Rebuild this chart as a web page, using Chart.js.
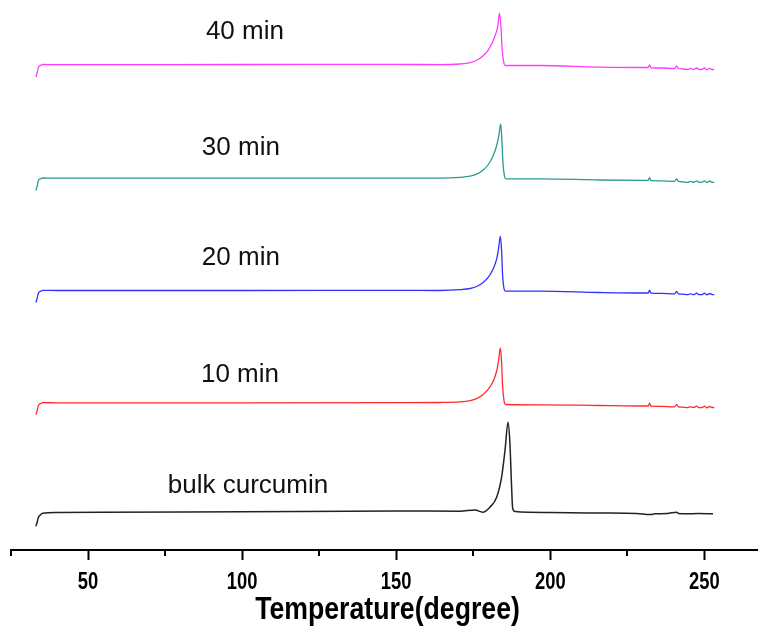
<!DOCTYPE html>
<html>
<head>
<meta charset="utf-8">
<script src="https://cdn.jsdelivr.net/npm/chart.js@4"></script>
<style>
  body { margin: 0; background: #fff; }
  canvas { display: block; }
</style>
</head>
<body>
<canvas id="myChart" width="758" height="626"></canvas>
<script>
// temperature (degree) and heat flow (a.u., curves stacked)
const temps40 = [33.1, 33.5, 33.9, 34.5, 35.3, 40, 60, 100, 150, 164.2, 170.7, 174.0, 176.1, 178.3, 179.9, 181.0, 182.1, 182.9, 183.5, 184.0, 184.4, 184.9, 185.3, 196.7, 216, 230, 231.8, 232.2, 232.7, 236, 240.3, 241.0, 241.6, 243, 244.5, 245.5, 246.5, 247.5, 248.3, 249.2, 250, 250.8, 251.8, 252.5, 253.2];
const heat40 = [472.8, 477.5, 482.8, 484.5, 485.5, 485.3, 485.4, 485.5, 485.7, 485.3, 486.0, 487.3, 489.7, 494.5, 500.2, 506.2, 514.5, 522.8, 536.8, 522.8, 499.5, 487.8, 484.5, 484.5, 482.8, 482.5, 482.5, 485.2, 482.2, 482, 481.5, 483.8, 481.5, 481, 480.5, 481.5, 480.5, 482, 480.5, 480.5, 482, 480.2, 481.7, 480.5, 480.5];

const temps30 = [33.1, 33.5, 33.9, 34.5, 35.3, 40, 60, 100, 150, 164.2, 170.7, 174.0, 176.1, 178.3, 179.9, 181.5, 182.6, 183.3, 183.9, 184.3, 184.6, 185.1, 185.6, 196.7, 216, 230, 231.8, 232.2, 232.7, 236, 240.3, 241.0, 241.6, 243, 244.5, 245.5, 246.5, 247.5, 248.3, 249.2, 250, 250.8, 251.8, 252.5, 253.2];
const heat30 = [359.5, 364, 369.5, 371, 372, 371.8, 371.8, 371.8, 371.9, 371.8, 372.6, 373.8, 375.8, 380.2, 385.5, 394.5, 404.5, 414.5, 426.2, 409.5, 389.5, 374.5, 371.2, 371.2, 370, 369.6, 369.6, 372.3, 369.3, 369.2, 368.7, 371, 368.7, 368.2, 367.7, 368.7, 367.7, 369.2, 367.7, 367.7, 369.2, 367.5, 369, 367.7, 367.7];

const temps20 = [33.1, 33.5, 33.9, 34.5, 35.3, 40, 60, 100, 150, 164.2, 170.7, 174.0, 176.1, 178.3, 179.9, 181.5, 182.6, 183.2, 183.8, 184.2, 184.5, 185.0, 185.5, 196.7, 216, 230, 231.8, 232.2, 232.7, 236, 240.3, 241.0, 241.6, 243, 244.5, 245.5, 246.5, 247.5, 248.3, 249.2, 250, 250.8, 251.8, 252.5, 253.2];
const heat20 = [247.5, 252, 257, 258.5, 259.6, 259.5, 259.5, 259.5, 259.6, 259.5, 260.3, 261.5, 263.5, 267.8, 272.8, 281.2, 291.2, 301.2, 313.8, 299.5, 276.2, 261.2, 258.8, 258.8, 257.5, 257, 257, 259.8, 256.8, 256.6, 256.2, 258.4, 256.2, 255.8, 255.3, 256.2, 255.3, 256.8, 255.3, 255.3, 256.8, 255.2, 256.5, 255.3, 255.3];

const temps10 = [33.1, 33.5, 33.9, 34.5, 35.3, 40, 60, 100, 150, 164.2, 170.7, 174.0, 176.1, 178.3, 179.9, 181.5, 182.6, 183.2, 183.8, 184.2, 184.5, 185.0, 185.5, 196.7, 216, 230, 231.8, 232.2, 232.7, 236, 240.3, 241.0, 241.6, 243, 244.5, 245.5, 246.5, 247.5, 248.3, 249.2, 250, 250.8, 251.8, 252.5, 253.2];
const heat10 = [135.2, 139.5, 144.5, 146.3, 147.3, 147.2, 147.2, 147.2, 147.3, 147.5, 148.1, 149.4, 151.4, 155.8, 160.8, 169, 179, 189, 202, 188, 165, 149, 145.5, 145.2, 144.5, 144, 144, 146.8, 143.8, 143.6, 143.2, 145.3, 143.2, 142.8, 142.4, 143.2, 142.4, 143.8, 142.4, 142.4, 143.8, 142.2, 143.5, 142.5, 142.5];

const tempsBulk = [33.1, 33.5, 33.9, 34.5, 35.3, 40, 53.9, 100, 150, 170.7, 175.6, 178.1, 180.4, 182.6, 184.2, 185.3, 186.3, 186.9, 187.4, 187.8, 188.6, 200, 216, 228, 232.4, 234, 238, 241, 241.6, 244, 248, 252.8];
const heatBulk = [23.8, 28, 32.8, 35, 36.8, 37.5, 37.8, 38.3, 39, 38.8, 40.0, 37.8, 42.8, 52.8, 72.8, 99.5, 127.8, 106.5, 66.5, 41.5, 38.5, 37.5, 37, 36.5, 35.5, 36.2, 36.5, 37.8, 36.5, 36.3, 36.4, 36.2];

const seriesNames = ["40 min", "30 min", "20 min", "10 min", "bulk curcumin"];
const seriesColors = ["#ff3cff", "#2a9a93", "#3030ff", "#ff2a2a", "#222222"];
const labelTemps = [100.9, 99.6, 99.6, 99.3, 101.9];
const labelHeat = [518.5, 402.5, 292.5, 175.5, 64.5];
const tickValues = [50, 100, 150, 200, 250];
const minorTickValues = [25, 75, 125, 175, 225];
const xTitle = "Temperature(degree)";

const allTemps = [temps40, temps30, temps20, temps10, tempsBulk];
const allHeat = [heat40, heat30, heat20, heat10, heatBulk];

const toPoints = (t, h) => t.map((x, i) => ({ x: x, y: h[i] }));

const ctx = document.getElementById("myChart").getContext("2d");

const curveLabels = {
  id: "curveLabels",
  afterDatasetsDraw(chart) {
    const { ctx, scales } = chart;
    ctx.save();
    ctx.font = '26px "Liberation Sans", Arial, sans-serif';
    ctx.fillStyle = "#111";
    ctx.textAlign = "center";
    ctx.textBaseline = "middle";
    seriesNames.forEach((name, i) => {
      ctx.fillText(name, scales.x.getPixelForValue(labelTemps[i]), scales.y.getPixelForValue(labelHeat[i]));
    });
    ctx.restore();
  },
};

// minor ticks + condensed bold axis text (no narrow font installed)
const axisExtras = {
  id: "axisExtras",
  afterDraw(chart) {
    const { ctx, scales, chartArea } = chart;
    ctx.save();
    ctx.strokeStyle = "#000";
    ctx.lineWidth = 2;
    minorTickValues.forEach((v) => {
      const px = Math.round(scales.x.getPixelForValue(v));
      ctx.beginPath();
      ctx.moveTo(px, chartArea.bottom);
      ctx.lineTo(px, chartArea.bottom + 6);
      ctx.stroke();
    });

    ctx.fillStyle = "#000";
    ctx.textAlign = "center";
    ctx.textBaseline = "middle";
    ctx.font = 'bold 23px "Liberation Sans", Arial, sans-serif';
    tickValues.forEach((v) => {
      ctx.save();
      ctx.translate(scales.x.getPixelForValue(v), chartArea.bottom + 33);
      ctx.scale(0.8, 1);
      ctx.fillText(String(v), 0, 0);
      ctx.restore();
    });

    ctx.font = 'bold 31px "Liberation Sans", Arial, sans-serif';
    ctx.translate((scales.x.left + scales.x.right) / 2 + 3, chartArea.bottom + 60);
    ctx.scale(0.86, 1);
    ctx.fillText(xTitle, 0, 0);
    ctx.restore();
  },
};

const myChart = new Chart(ctx, {
  type: "line",
  data: {
    datasets: seriesNames.map((name, i) => ({
      label: name,
      data: toPoints(allTemps[i], allHeat[i]),
      borderColor: seriesColors[i],
      borderWidth: i === 4 ? 1.5 : 1.3,
      pointRadius: 0,
      fill: false,
      cubicInterpolationMode: "monotone",
    })),
  },
  options: {
    responsive: false,
    animation: false,
    layout: { padding: { left: 11, right: 0, top: 0, bottom: 0 } },
    plugins: {
      legend: { display: false },
      tooltip: { enabled: false },
    },
    scales: {
      x: {
        type: "linear",
        min: 25,
        max: 267.4,
        afterBuildTicks: (scale) => {
          scale.ticks = tickValues.map((v) => ({ value: v }));
        },
        afterFit: (scale) => {
          scale.height = 76;
        },
        border: { display: true, color: "#000", width: 2 },
        grid: {
          drawOnChartArea: false,
          drawTicks: true,
          tickLength: 10,
          tickWidth: 2,
          tickColor: "#000",
        },
        ticks: { display: false },
        title: { display: false },
      },
      y: {
        display: false,
        min: 0,
        max: 550,
      },
    },
  },
  plugins: [curveLabels, axisExtras],
});
</script>
</body>
</html>
